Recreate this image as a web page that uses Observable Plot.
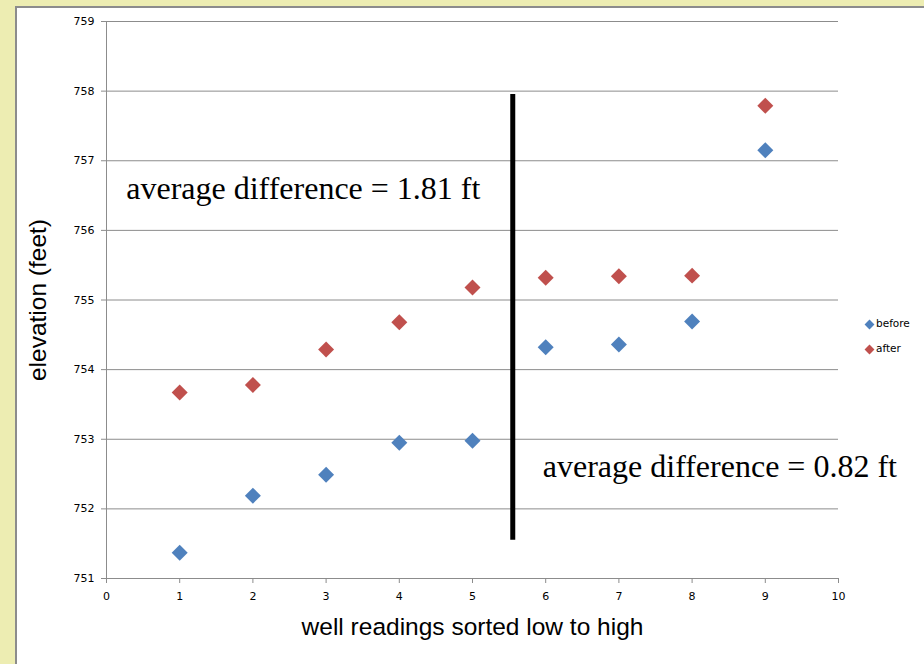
<!DOCTYPE html>
<html>
<head>
<meta charset="utf-8">
<script src="https://cdn.jsdelivr.net/npm/d3@7"></script>
<script src="https://cdn.jsdelivr.net/npm/@observablehq/plot@0.6"></script>
<style>
  html, body { margin: 0; padding: 0; }
  body { width: 924px; height: 664px; background: #EDEDB2; position: relative; overflow: hidden; }
  #panel { position: absolute; left: 15px; top: 6px; right: 0; bottom: 0; background: #fff;
           border-left: 2px solid #8c8c8c; border-top: 2px solid #8c8c8c; }
  #chart { position: absolute; left: 0; top: 0; }
  #legend { position: absolute; left: 864px; top: 317px; font: 10.5px "DejaVu Sans", sans-serif; color: #000; }
  #legend .row { height: 25px; display: flex; align-items: flex-start; }
  #legend .sw { width: 7px; height: 7px; transform: rotate(45deg); margin: 4px 3px 0 2px; }
</style>
</head>
<body>
<div id="panel"></div>
<div id="chart"></div>
<div id="legend"></div>
<script>
const wells = [1, 2, 3, 4, 5, 6, 7, 8, 9];
const before = [751.37, 752.19, 752.49, 752.95, 752.98, 754.32, 754.36, 754.69, 757.15];
const after  = [753.67, 753.78, 754.29, 754.68, 755.18, 755.32, 755.34, 755.35, 757.79];
const seriesNames = ["before", "after"];
const seriesColors = ["#4F81BD", "#C0504D"];
const xTicks = [0, 1, 2, 3, 4, 5, 6, 7, 8, 9, 10];
const yTicks = [751, 752, 753, 754, 755, 756, 757, 758, 759];
const divider = {x: 5.55, y1: 751.55, y2: 757.95};
const notes = [
  {x: 0.27, y: 756.6, text: "average difference = 1.81 ft"},
  {x: 5.96, y: 752.6, text: "average difference = 0.82 ft"}
];

const data = [];
wells.forEach((w, i) => {
  data.push({well: w, value: before[i], series: "before"});
  data.push({well: w, value: after[i], series: "after"});
});

const grid = "#8c8c8c";
const chart = Plot.plot({
  width: 924,
  height: 664,
  marginLeft: 106,
  marginRight: 86,
  marginTop: 21,
  marginBottom: 86,
  style: {background: "transparent", fontFamily: "'DejaVu Sans', sans-serif", fontSize: "11px", color: "#000"},
  x: {domain: [0, 10], ticks: xTicks},
  y: {domain: [751, 759], ticks: yTicks},
  color: {domain: seriesNames, range: seriesColors},
  marks: [
    Plot.gridY(yTicks, {stroke: grid, strokeOpacity: 1, strokeWidth: 1}),
    Plot.ruleX([0], {stroke: grid, strokeWidth: 1}),
    Plot.ruleY([751], {stroke: grid, strokeWidth: 1}),
    Plot.axisY(yTicks, {tickSize: 5, tickPadding: 7, stroke: grid, label: null, fill: "#000", fontSize: 11, tickFormat: "d"}),
    Plot.axisX(xTicks, {tickSize: 5, tickPadding: 9, stroke: grid, label: null, fill: "#000", fontSize: 11, tickFormat: "d"}),
    Plot.dot(data, {x: "well", y: "value", fill: "series", symbol: "diamond2", r: 7.2}),
    Plot.ruleX([divider], {x: "x", y1: "y1", y2: "y2", stroke: "#000", strokeWidth: 5}),
    Plot.text(notes, {x: "x", y: "y", text: "text", textAnchor: "start", fontSize: 32,
      fontFamily: "'Liberation Serif', serif", fill: "#000"}),
    Plot.text(["elevation (feet)"], {frameAnchor: "left", dx: -68, rotate: -90, textAnchor: "middle",
      fontSize: 24.5, fontFamily: "'Liberation Sans', sans-serif", fill: "#000"}),
    Plot.text(["well readings sorted low to high"], {frameAnchor: "bottom", dy: 56, textAnchor: "middle",
      fontSize: 24.5, fontFamily: "'Liberation Sans', sans-serif", fill: "#000"})
  ]
});
document.getElementById("chart").appendChild(chart);

const legend = document.getElementById("legend");
seriesNames.forEach((name, i) => {
  const row = document.createElement("div");
  row.className = "row";
  const sw = document.createElement("span");
  sw.className = "sw";
  sw.style.background = seriesColors[i];
  const label = document.createElement("span");
  label.textContent = name;
  row.appendChild(sw);
  row.appendChild(label);
  legend.appendChild(row);
});
</script>
</body>
</html>
